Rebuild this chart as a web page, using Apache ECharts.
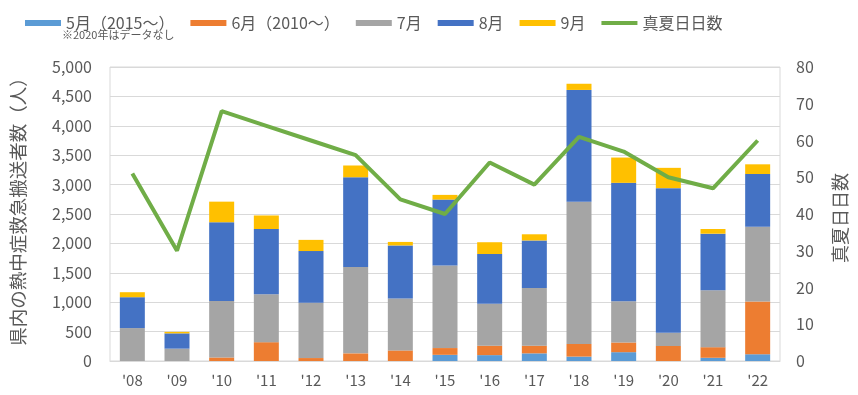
<!DOCTYPE html>
<html>
<head>
<meta charset="utf-8">
<script src="https://cdn.jsdelivr.net/npm/echarts@6/dist/echarts.min.js"></script>
<style>
html,body{margin:0;padding:0;background:#fff;}
#chart{width:858px;height:395px;}
</style>
</head>
<body>
<div id="chart"></div>
<script>
const years = ["'08","'09","'10","'11","'12","'13","'14","'15","'16","'17","'18","'19","'20","'21","'22"];
const seriesNames = ["5月（2015～）","6月（2010～）","7月","8月","9月","真夏日日数"];
const may = [null,null,null,null,null,null,null,105,100,130,75,150,null,55,115];
const jun = [null,null,60,320,50,130,180,115,160,130,215,165,255,180,895];
const jul = [560,210,960,815,940,1470,885,1405,715,980,2420,700,225,970,1275];
const aug = [525,260,1340,1110,880,1525,900,1120,845,810,1900,2015,2460,960,895];
const sep = [85,25,350,230,190,200,60,80,200,105,105,430,345,80,165];
const hotDays = [51,30,68,64,60,56,44,40,54,48,61,57,50,47,60];
const leftTicks = {min:0,max:5000,interval:500};
const rightTicks = {min:0,max:80,interval:10};
const leftName = "県内の熱中症救急搬送者数（人）";
const rightName = "真夏日日数";
const note = "※2020年はデータなし";

const colors = ['#5B9BD5','#ED7D31','#A5A5A5','#4472C4','#FFC000','#70AD47'];
const FONT = '"Noto Sans CJK JP", "Noto Sans", sans-serif';
const TXT = '#595959';

const chart = echarts.init(document.getElementById('chart'));
const barData = [may, jun, jul, aug, sep];
const series = barData.map((d,i)=>({
  name: seriesNames[i], type:'bar', stack:'total', data:d,
  barWidth: 25, itemStyle:{color:colors[i]}, z:2
}));
series.push({
  name: seriesNames[5], type:'line', yAxisIndex:1, data: hotDays,
  symbol:'none', showSymbol:false, z:5,
  lineStyle:{width:4,color:colors[5]}, itemStyle:{color:colors[5]}
});

chart.setOption({
  animation:false,
  textStyle:{fontFamily:FONT},
  color: colors,
  legend:{
    left:20, top:10, itemWidth:36, itemHeight:6, itemGap:16,
    data: seriesNames.map((n,i)=> i<5 ? {name:n, icon:'rect'} : {name:n, icon:'path://M0,0H36V4H0Z'}),
    textStyle:{fontSize:16, color:TXT, fontFamily:FONT}
  },
  grid:{left:110, right:78, top:67, bottom:34, show:true, borderColor:'#d9d9d9', borderWidth:1},
  xAxis:{
    type:'category', data: years,
    axisLine:{lineStyle:{color:'#d9d9d9'}},
    axisTick:{show:false},
    axisLabel:{color:TXT, fontSize:15, margin:12, fontFamily:FONT}
  },
  yAxis:[
    {type:'value', min:leftTicks.min, max:leftTicks.max, interval:leftTicks.interval,
     axisLabel:{color:TXT, fontSize:16, margin:18, fontFamily:FONT,
       formatter:v=>v.toLocaleString('en-US')},
     splitLine:{lineStyle:{color:'#d9d9d9'}}, axisLine:{show:false}, axisTick:{show:false}},
    {type:'value', min:rightTicks.min, max:rightTicks.max, interval:rightTicks.interval,
     axisLabel:{color:TXT, fontSize:16, margin:16, fontFamily:FONT},
     splitLine:{show:false}, axisLine:{show:false}, axisTick:{show:false}}
  ],
  graphic:[
    {type:'text', left:62, top:29, style:{text:note, fontSize:11, fill:TXT, fontFamily:FONT}},
    {type:'text', x:18, y:207, rotation:Math.PI/2,
     style:{text:leftName, fontSize:18.5, fill:TXT, fontFamily:FONT, textAlign:'center', textVerticalAlign:'middle'}},
    {type:'text', x:840, y:218, rotation:Math.PI/2,
     style:{text:rightName, fontSize:18, fill:TXT, fontFamily:FONT, textAlign:'center', textVerticalAlign:'middle'}}
  ],
  series: series
});
</script>
</body>
</html>
